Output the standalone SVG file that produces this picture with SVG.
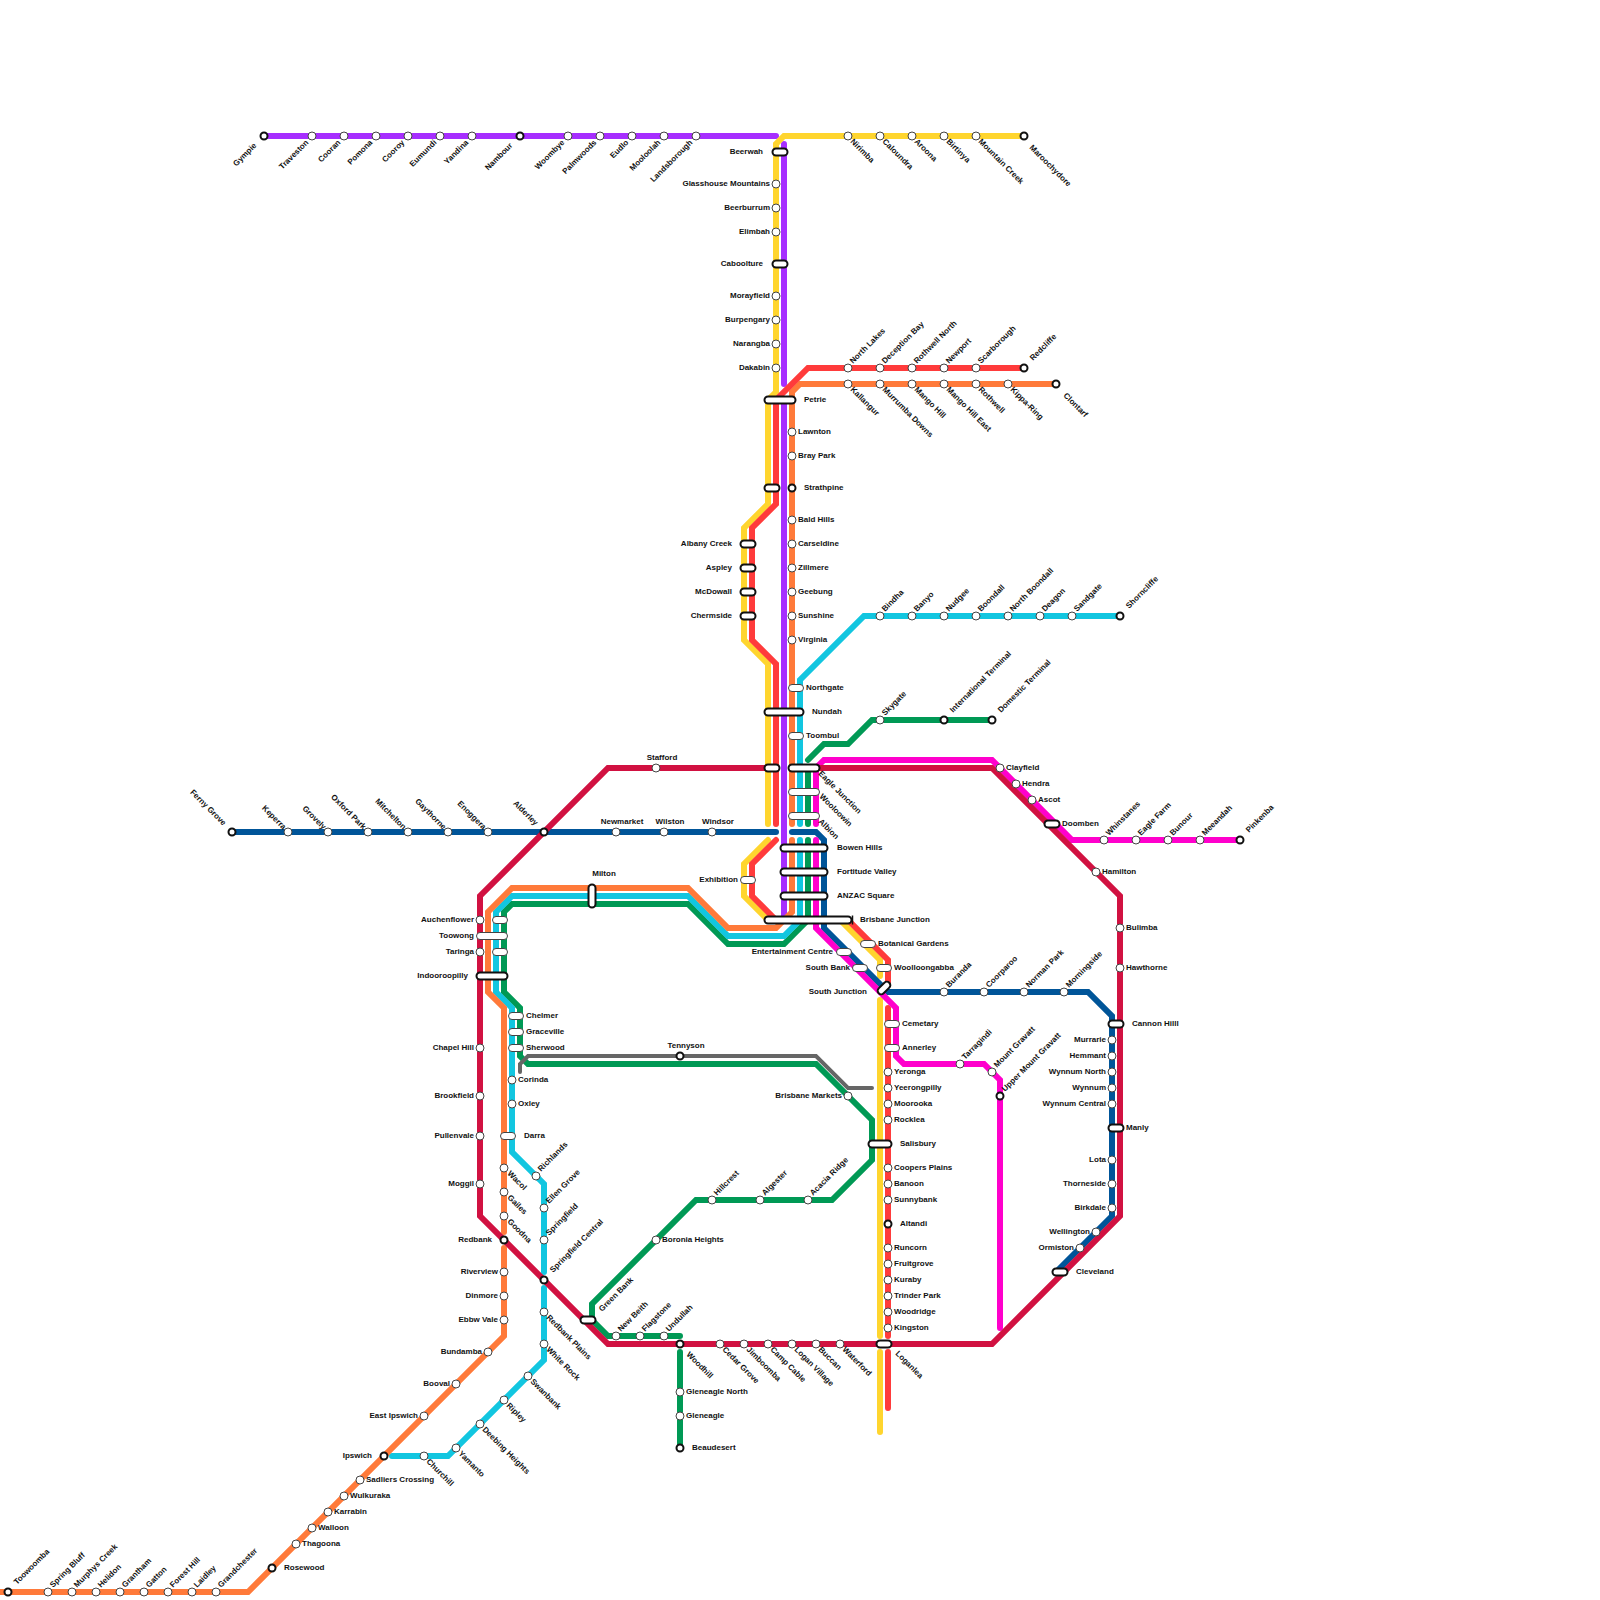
<svg xmlns="http://www.w3.org/2000/svg" width="1600" height="1600" viewBox="0 0 1600 1600">
<style>
text{font-family:"Liberation Sans",Arial,sans-serif;font-size:8px;font-weight:700;fill:#111}
.e{text-anchor:end}.c{text-anchor:middle}
.l path{fill:none;stroke-width:6;stroke-linecap:round;stroke-linejoin:miter}
.s{fill:#fff;stroke:#444;stroke-width:1}
.m{fill:#fff;stroke:#111;stroke-width:2}
.pu{stroke:#a62eff}.ye{stroke:#ffd52e}.re{stroke:#ff3b3b}.or{stroke:#ff7a3a}.cy{stroke:#12c6e0}.gr{stroke:#009955}.ma{stroke:#ff00cc}.bl{stroke:#005599}.cr{stroke:#d11141}
.l path.gy{stroke:#666;stroke-width:4}
</style>
<rect width="1600" height="1600" fill="#fff"/>
<g id="connectors" class="l">
<path class="pu" d="M264 136H776M784 144V384M784 400V920"/>
<path class="gr" d="M504 912L512 904H688L728 944H784L808 920M808 768V824M808 840V920M504 912V992L520 1008V1056L528 1064H816L872 1120V1160L832 1200H696L592 1304V1320L608 1336H680M680 1352V1448M880 720H992M880 720H872L848 744H824L808 760"/>
<path class="gy" d="M520 1072V1064L528 1056H816L848 1088H872"/>
<path class="cy" d="M1120 616H864L800 680V824M800 840V920L784 936H728L688 896H512L496 912V992L512 1008V1152L544 1184V1272M544 1288V1360L448 1456H392"/>
<path class="or" d="M1056 384H800L792 392V824M792 840V912L776 928H728L688 888H512L488 912V992L504 1008V1232M504 1248V1336L248 1592H0"/>
<path class="ye" d="M1024 136H784L776 144V392L768 400V504L744 528V640L768 664V824M768 840L744 864V896L768 920H840L880 960V976M880 1000V1336M880 1352V1432"/>
<path class="re" d="M1024 368H808L776 400V504L752 528V640L776 664V824M776 840L752 864V896L776 920H848L888 960V984M888 1008V1336M888 1352V1408"/>
<path class="bl" d="M232 832H776M792 832H816L824 840V928L888 992H1088L1112 1016V1216L1056 1272"/>
<path class="ma" d="M1240 840H1072L992 760H824L816 768V824M816 840V928L896 1008V1056L904 1064H984L1000 1080V1328"/>
<path class="cr" d="M772 768H608L480 896V1216L608 1344H992L1120 1216V896L992 768H810"/>
</g>
<g id="nodes">
<g id="gympie"><circle class="m" cx="264" cy="136" r="3.5"/><text class="e" transform="translate(257 146) rotate(-45)">Gympie</text></g>
<g id="traveston"><circle class="s" cx="312" cy="136" r="4"/><text class="e" transform="translate(309 143) rotate(-45)">Traveston</text></g>
<g id="cooran"><circle class="s" cx="344" cy="136" r="4"/><text class="e" transform="translate(341 143) rotate(-45)">Cooran</text></g>
<g id="pomona"><circle class="s" cx="376" cy="136" r="4"/><text class="e" transform="translate(373 143) rotate(-45)">Pomona</text></g>
<g id="cooroy"><circle class="s" cx="408" cy="136" r="4"/><text class="e" transform="translate(405 143) rotate(-45)">Cooroy</text></g>
<g id="eumundi"><circle class="s" cx="440" cy="136" r="4"/><text class="e" transform="translate(437 143) rotate(-45)">Eumundi</text></g>
<g id="yandina"><circle class="s" cx="472" cy="136" r="4"/><text class="e" transform="translate(469 143) rotate(-45)">Yandina</text></g>
<g id="nambour"><circle class="m" cx="520" cy="136" r="3.5"/><text class="e" transform="translate(513 146) rotate(-45)">Nambour</text></g>
<g id="woombye"><circle class="s" cx="568" cy="136" r="4"/><text class="e" transform="translate(565 143) rotate(-45)">Woombye</text></g>
<g id="palmwoods"><circle class="s" cx="600" cy="136" r="4"/><text class="e" transform="translate(597 143) rotate(-45)">Palmwoods</text></g>
<g id="eudlo"><circle class="s" cx="632" cy="136" r="4"/><text class="e" transform="translate(629 143) rotate(-45)">Eudlo</text></g>
<g id="mooloolah"><circle class="s" cx="664" cy="136" r="4"/><text class="e" transform="translate(661 143) rotate(-45)">Mooloolah</text></g>
<g id="landsborough"><circle class="s" cx="696" cy="136" r="4"/><text class="e" transform="translate(693 143) rotate(-45)">Landsborough</text></g>
<g id="nirimba"><circle class="s" cx="848" cy="136" r="4"/><text transform="translate(850 142) rotate(45)">Nirimba</text></g>
<g id="caloundra"><circle class="s" cx="880" cy="136" r="4"/><text transform="translate(882 142) rotate(45)">Caloundra</text></g>
<g id="aroona"><circle class="s" cx="912" cy="136" r="4"/><text transform="translate(914 142) rotate(45)">Aroona</text></g>
<g id="birtinya"><circle class="s" cx="944" cy="136" r="4"/><text transform="translate(946 142) rotate(45)">Birtinya</text></g>
<g id="mountain-creek"><circle class="s" cx="976" cy="136" r="4"/><text transform="translate(978 142) rotate(45)">Mountain Creek</text></g>
<g id="maroochydore"><circle class="m" cx="1024" cy="136" r="3.5"/><text transform="translate(1029 148) rotate(45)">Maroochydore</text></g>
<g id="beerwah"><rect class="m" x="772.5" y="148.5" width="15" height="7" rx="3.5"/><text class="e" x="763" y="154">Beerwah</text></g>
<g id="glasshouse"><circle class="s" cx="776" cy="184" r="4"/><text class="e" x="770" y="186">Glasshouse Mountains</text></g>
<g id="beerburrum"><circle class="s" cx="776" cy="208" r="4"/><text class="e" x="770" y="210">Beerburrum</text></g>
<g id="elimbah"><circle class="s" cx="776" cy="232" r="4"/><text class="e" x="770" y="234">Elimbah</text></g>
<g id="caboolture"><rect class="m" x="772.5" y="260.5" width="15" height="7" rx="3.5"/><text class="e" x="763" y="266">Caboolture</text></g>
<g id="morayfield"><circle class="s" cx="776" cy="296" r="4"/><text class="e" x="770" y="298">Morayfield</text></g>
<g id="burpengary"><circle class="s" cx="776" cy="320" r="4"/><text class="e" x="770" y="322">Burpengary</text></g>
<g id="narangba"><circle class="s" cx="776" cy="344" r="4"/><text class="e" x="770" y="346">Narangba</text></g>
<g id="dakabin"><circle class="s" cx="776" cy="368" r="4"/><text class="e" x="770" y="370">Dakabin</text></g>
<g id="north-lakes"><circle class="s" cx="848" cy="368" r="4"/><text transform="translate(853 364) rotate(-45)">North Lakes</text></g>
<g id="deception-bay"><circle class="s" cx="880" cy="368" r="4"/><text transform="translate(885 364) rotate(-45)">Deception Bay</text></g>
<g id="rothwell-north"><circle class="s" cx="912" cy="368" r="4"/><text transform="translate(917 364) rotate(-45)">Rothwell North</text></g>
<g id="newport"><circle class="s" cx="944" cy="368" r="4"/><text transform="translate(949 364) rotate(-45)">Newport</text></g>
<g id="scarborough"><circle class="s" cx="976" cy="368" r="4"/><text transform="translate(981 364) rotate(-45)">Scarborough</text></g>
<g id="redcliffe"><circle class="m" cx="1024" cy="368" r="3.5"/><text transform="translate(1033 361) rotate(-45)">Redcliffe</text></g>
<g id="kallangur"><circle class="s" cx="848" cy="384" r="4"/><text transform="translate(850 390) rotate(45)">Kallangur</text></g>
<g id="murrumba-downs"><circle class="s" cx="880" cy="384" r="4"/><text transform="translate(882 390) rotate(45)">Murrumba Downs</text></g>
<g id="mango-hill"><circle class="s" cx="912" cy="384" r="4"/><text transform="translate(914 390) rotate(45)">Mango Hill</text></g>
<g id="mango-hill-east"><circle class="s" cx="944" cy="384" r="4"/><text transform="translate(946 390) rotate(45)">Mango Hill East</text></g>
<g id="rothwell"><circle class="s" cx="976" cy="384" r="4"/><text transform="translate(978 390) rotate(45)">Rothwell</text></g>
<g id="kippa-ring"><circle class="s" cx="1008" cy="384" r="4"/><text transform="translate(1010 390) rotate(45)">Kippa-Ring</text></g>
<g id="clontarf"><circle class="m" cx="1056" cy="384" r="3.5"/><text transform="translate(1063 396) rotate(45)">Clontarf</text></g>
<g id="petrie"><rect class="m" x="764.5" y="396.5" width="31" height="7" rx="3.5"/><text x="804" y="402">Petrie</text></g>
<g id="lawnton"><circle class="s" cx="792" cy="432" r="4"/><text x="798" y="434">Lawnton</text></g>
<g id="bray-park"><circle class="s" cx="792" cy="456" r="4"/><text x="798" y="458">Bray Park</text></g>
<g id="strathpine"><rect class="m" x="764.5" y="484.5" width="15" height="7" rx="3.5"/><circle class="m" cx="792" cy="488" r="3.5"/><text x="804" y="490">Strathpine</text></g>
<g id="bald-hills"><circle class="s" cx="792" cy="520" r="4"/><text x="798" y="522">Bald Hills</text></g>
<g id="carseldine"><circle class="s" cx="792" cy="544" r="4"/><text x="798" y="546">Carseldine</text></g>
<g id="zillmere"><circle class="s" cx="792" cy="568" r="4"/><text x="798" y="570">Zillmere</text></g>
<g id="geebung"><circle class="s" cx="792" cy="592" r="4"/><text x="798" y="594">Geebung</text></g>
<g id="sunshine"><circle class="s" cx="792" cy="616" r="4"/><text x="798" y="618">Sunshine</text></g>
<g id="virginia"><circle class="s" cx="792" cy="640" r="4"/><text x="798" y="642">Virginia</text></g>
<g id="albany-creek"><rect class="m" x="740.5" y="540.5" width="15" height="7" rx="3.5"/><text class="e" x="732" y="546">Albany Creek</text></g>
<g id="aspley"><rect class="m" x="740.5" y="564.5" width="15" height="7" rx="3.5"/><text class="e" x="732" y="570">Aspley</text></g>
<g id="mcdowall"><rect class="m" x="740.5" y="588.5" width="15" height="7" rx="3.5"/><text class="e" x="732" y="594">McDowall</text></g>
<g id="chermside"><rect class="m" x="740.5" y="612.5" width="15" height="7" rx="3.5"/><text class="e" x="732" y="618">Chermside</text></g>
<g id="bindha"><circle class="s" cx="880" cy="616" r="4"/><text transform="translate(885 612) rotate(-45)">Bindha</text></g>
<g id="banyo"><circle class="s" cx="912" cy="616" r="4"/><text transform="translate(917 612) rotate(-45)">Banyo</text></g>
<g id="nudgee"><circle class="s" cx="944" cy="616" r="4"/><text transform="translate(949 612) rotate(-45)">Nudgee</text></g>
<g id="boondall"><circle class="s" cx="976" cy="616" r="4"/><text transform="translate(981 612) rotate(-45)">Boondall</text></g>
<g id="north-boondall"><circle class="s" cx="1008" cy="616" r="4"/><text transform="translate(1013 612) rotate(-45)">North Boondall</text></g>
<g id="deagon"><circle class="s" cx="1040" cy="616" r="4"/><text transform="translate(1045 612) rotate(-45)">Deagon</text></g>
<g id="sandgate"><circle class="s" cx="1072" cy="616" r="4"/><text transform="translate(1077 612) rotate(-45)">Sandgate</text></g>
<g id="shorncliffe"><circle class="m" cx="1120" cy="616" r="3.5"/><text transform="translate(1129 609) rotate(-45)">Shorncliffe</text></g>
<g id="northgate"><rect class="s" x="788.5" y="684.5" width="15" height="7" rx="3.5"/><text x="806" y="690">Northgate</text></g>
<g id="nundah"><rect class="m" x="764.5" y="708.5" width="39" height="7" rx="3.5"/><text x="812" y="714">Nundah</text></g>
<g id="toombul"><rect class="s" x="788.5" y="732.5" width="15" height="7" rx="3.5"/><text x="806" y="738">Toombul</text></g>
<g id="skygate"><circle class="s" cx="880" cy="720" r="4"/><text transform="translate(885 716) rotate(-45)">Skygate</text></g>
<g id="international-terminal"><circle class="m" cx="944" cy="720" r="3.5"/><text transform="translate(953 713) rotate(-45)">International Terminal</text></g>
<g id="domestic-terminal"><circle class="m" cx="992" cy="720" r="3.5"/><text transform="translate(1001 713) rotate(-45)">Domestic Terminal</text></g>
<g id="stafford"><circle class="s" cx="656" cy="768" r="4"/><text class="c" x="662" y="760">Stafford</text></g>
<g id="eagle-junction"><rect class="m" x="764.5" y="764.5" width="15" height="7" rx="3.5"/><rect class="m" x="788.5" y="764.5" width="31" height="7" rx="3.5"/><text transform="translate(818 774) rotate(45)">Eagle Junction</text></g>
<g id="wooloowin"><rect class="s" x="788.5" y="788.5" width="31" height="7" rx="3.5"/><text transform="translate(819 797) rotate(45)">Wooloowin</text></g>
<g id="albion"><rect class="s" x="788.5" y="812.5" width="31" height="7" rx="3.5"/><text transform="translate(818 822) rotate(45)">Albion</text></g>
<g id="clayfield"><circle class="s" cx="1000" cy="768" r="4"/><text x="1006" y="770">Clayfield</text></g>
<g id="hendra"><circle class="s" cx="1016" cy="784" r="4"/><text x="1022" y="786">Hendra</text></g>
<g id="ascot"><circle class="s" cx="1032" cy="800" r="4"/><text x="1038" y="802">Ascot</text></g>
<g id="doomben"><rect class="m" x="1044.5" y="820.5" width="15" height="7" rx="3.5"/><text x="1062" y="826">Doomben</text></g>
<g id="whinstanes"><circle class="s" cx="1104" cy="840" r="4"/><text transform="translate(1109 836) rotate(-45)">Whinstanes</text></g>
<g id="eagle-farm"><circle class="s" cx="1136" cy="840" r="4"/><text transform="translate(1141 836) rotate(-45)">Eagle Farm</text></g>
<g id="bunour"><circle class="s" cx="1168" cy="840" r="4"/><text transform="translate(1173 836) rotate(-45)">Bunour</text></g>
<g id="meeandah"><circle class="s" cx="1200" cy="840" r="4"/><text transform="translate(1205 836) rotate(-45)">Meeandah</text></g>
<g id="pinkenba"><circle class="m" cx="1240" cy="840" r="3.5"/><text transform="translate(1249 833) rotate(-45)">Pinkenba</text></g>
<g id="hamilton"><circle class="s" cx="1096" cy="872" r="4"/><text x="1102" y="874">Hamilton</text></g>
<g id="bulimba"><circle class="s" cx="1120" cy="928" r="4"/><text x="1126" y="930">Bulimba</text></g>
<g id="hawthorne"><circle class="s" cx="1120" cy="968" r="4"/><text x="1126" y="970">Hawthorne</text></g>
<g id="ferny-grove"><circle class="m" cx="232" cy="832" r="3.5"/><text class="e" transform="translate(223 826) rotate(45)">Ferny Grove</text></g>
<g id="keperra"><circle class="s" cx="288" cy="832" r="4"/><text class="e" transform="translate(283 830) rotate(45)">Keperra</text></g>
<g id="grovely"><circle class="s" cx="328" cy="832" r="4"/><text class="e" transform="translate(323 830) rotate(45)">Grovely</text></g>
<g id="oxford-park"><circle class="s" cx="368" cy="832" r="4"/><text class="e" transform="translate(363 830) rotate(45)">Oxford Park</text></g>
<g id="mitchelton"><circle class="s" cx="408" cy="832" r="4"/><text class="e" transform="translate(403 830) rotate(45)">Mitchelton</text></g>
<g id="gaythorne"><circle class="s" cx="448" cy="832" r="4"/><text class="e" transform="translate(443 830) rotate(45)">Gaythorne</text></g>
<g id="enoggera"><circle class="s" cx="488" cy="832" r="4"/><text class="e" transform="translate(483 830) rotate(45)">Enoggera</text></g>
<g id="alderley"><circle class="m" cx="544" cy="832" r="3.5"/><text class="e" transform="translate(535 826) rotate(45)">Alderley</text></g>
<g id="newmarket"><circle class="s" cx="616" cy="832" r="4"/><text class="c" x="622" y="824">Newmarket</text></g>
<g id="wilston"><circle class="s" cx="664" cy="832" r="4"/><text class="c" x="670" y="824">Wilston</text></g>
<g id="windsor"><circle class="s" cx="712" cy="832" r="4"/><text class="c" x="718" y="824">Windsor</text></g>
<g id="bowen-hills"><rect class="m" x="780.5" y="844.5" width="47" height="7" rx="3.5"/><text x="837" y="850">Bowen Hills</text></g>
<g id="fortitude-valley"><rect class="m" x="780.5" y="868.5" width="47" height="7" rx="3.5"/><text x="837" y="874">Fortitude Valley</text></g>
<g id="anzac-square"><rect class="m" x="780.5" y="892.5" width="47" height="7" rx="3.5"/><text x="837" y="898">ANZAC Square</text></g>
<g id="exhibition"><rect class="s" x="740.5" y="876.5" width="15" height="7" rx="3.5"/><text class="e" x="738" y="882">Exhibition</text></g>
<g id="brisbane-junction"><path d="M852.5 915.5V924.5" stroke="#111" stroke-width="1.5"/><rect class="m" x="764.5" y="916.5" width="87" height="7" rx="3.5"/><text x="860" y="922">Brisbane Junction</text></g>
<g id="milton"><rect class="m" x="588.5" y="884.5" width="7" height="23" rx="3.5"/><text class="c" x="604" y="876">Milton</text></g>
<g id="botanical-gardens"><rect class="s" x="860.5" y="940.5" width="15" height="7" rx="3.5"/><text x="878" y="946">Botanical Gardens</text></g>
<g id="entertainment-centre"><rect class="s" x="836.5" y="948.5" width="15" height="7" rx="3.5"/><text class="e" x="833" y="954">Entertainment Centre</text></g>
<g id="south-bank"><rect class="s" x="852.5" y="964.5" width="15" height="7" rx="3.5"/><text class="e" x="850" y="970">South Bank</text></g>
<g id="woolloongabba"><rect class="s" x="876.5" y="964.5" width="15" height="7" rx="3.5"/><text x="894" y="970">Woolloongabba</text></g>
<g id="south-junction"><rect class="m" x="876.5" y="984.5" width="15" height="7" rx="3.5" transform="rotate(-45 884 988)"/><text class="e" x="867" y="994">South Junction</text></g>
<g id="buranda"><circle class="s" cx="944" cy="992" r="4"/><text transform="translate(949 988) rotate(-45)">Buranda</text></g>
<g id="coorparoo"><circle class="s" cx="984" cy="992" r="4"/><text transform="translate(989 988) rotate(-45)">Coorparoo</text></g>
<g id="norman-park"><circle class="s" cx="1024" cy="992" r="4"/><text transform="translate(1029 988) rotate(-45)">Norman Park</text></g>
<g id="morningside"><circle class="s" cx="1064" cy="992" r="4"/><text transform="translate(1069 988) rotate(-45)">Morningside</text></g>
<g id="auchenflower"><circle class="s" cx="480" cy="920" r="4"/><rect class="s" x="492.5" y="916.5" width="15" height="7" rx="3.5"/><text class="e" x="474" y="922">Auchenflower</text></g>
<g id="toowong"><rect class="s" x="476.5" y="932.5" width="31" height="7" rx="3.5"/><text class="e" x="474" y="938">Toowong</text></g>
<g id="taringa"><circle class="s" cx="480" cy="952" r="4"/><rect class="s" x="492.5" y="948.5" width="15" height="7" rx="3.5"/><text class="e" x="474" y="954">Taringa</text></g>
<g id="indooroopilly"><rect class="m" x="476.5" y="972.5" width="31" height="7" rx="3.5"/><text class="e" x="468" y="978">Indooroopilly</text></g>
<g id="chelmer"><rect class="s" x="508.5" y="1012.5" width="15" height="7" rx="3.5"/><text x="526" y="1018">Chelmer</text></g>
<g id="graceville"><rect class="s" x="508.5" y="1028.5" width="15" height="7" rx="3.5"/><text x="526" y="1034">Graceville</text></g>
<g id="sherwood"><rect class="s" x="508.5" y="1044.5" width="15" height="7" rx="3.5"/><text x="526" y="1050">Sherwood</text></g>
<g id="corinda"><circle class="s" cx="512" cy="1080" r="4"/><text x="518" y="1082">Corinda</text></g>
<g id="oxley"><circle class="s" cx="512" cy="1104" r="4"/><text x="518" y="1106">Oxley</text></g>
<g id="darra"><rect class="s" x="500.5" y="1132.5" width="15" height="7" rx="3.5"/><text x="524" y="1138">Darra</text></g>
<g id="tennyson"><circle class="m" cx="680" cy="1056" r="3.5"/><text class="c" x="686" y="1048">Tennyson</text></g>
<g id="chapel-hill"><circle class="s" cx="480" cy="1048" r="4"/><text class="e" x="474" y="1050">Chapel Hill</text></g>
<g id="brookfield"><circle class="s" cx="480" cy="1096" r="4"/><text class="e" x="474" y="1098">Brookfield</text></g>
<g id="pullenvale"><circle class="s" cx="480" cy="1136" r="4"/><text class="e" x="474" y="1138">Pullenvale</text></g>
<g id="moggil"><circle class="s" cx="480" cy="1184" r="4"/><text class="e" x="474" y="1186">Moggil</text></g>
<g id="wacol"><circle class="s" cx="504" cy="1168" r="4"/><text transform="translate(507 1174) rotate(45)">Wacol</text></g>
<g id="gailes"><circle class="s" cx="504" cy="1192" r="4"/><text transform="translate(507 1198) rotate(45)">Gailes</text></g>
<g id="goodna"><circle class="s" cx="504" cy="1216" r="4"/><text transform="translate(507 1222) rotate(45)">Goodna</text></g>
<g id="redbank"><circle class="m" cx="504" cy="1240" r="3.5"/><text class="e" x="492" y="1242">Redbank</text></g>
<g id="riverview"><circle class="s" cx="504" cy="1272" r="4"/><text class="e" x="498" y="1274">Riverview</text></g>
<g id="dinmore"><circle class="s" cx="504" cy="1296" r="4"/><text class="e" x="498" y="1298">Dinmore</text></g>
<g id="ebbw-vale"><circle class="s" cx="504" cy="1320" r="4"/><text class="e" x="498" y="1322">Ebbw Vale</text></g>
<g id="bundamba"><circle class="s" cx="488" cy="1352" r="4"/><text class="e" x="482" y="1354">Bundamba</text></g>
<g id="booval"><circle class="s" cx="456" cy="1384" r="4"/><text class="e" x="450" y="1386">Booval</text></g>
<g id="east-ipswich"><circle class="s" cx="424" cy="1416" r="4"/><text class="e" x="418" y="1418">East Ipswich</text></g>
<g id="ipswich"><circle class="m" cx="384" cy="1456" r="3.5"/><text class="e" x="372" y="1458">Ipswich</text></g>
<g id="sadliers-crossing"><circle class="s" cx="360" cy="1480" r="4"/><text x="366" y="1482">Sadliers Crossing</text></g>
<g id="wulkuraka"><circle class="s" cx="344" cy="1496" r="4"/><text x="350" y="1498">Wulkuraka</text></g>
<g id="karrabin"><circle class="s" cx="328" cy="1512" r="4"/><text x="334" y="1514">Karrabin</text></g>
<g id="walloon"><circle class="s" cx="312" cy="1528" r="4"/><text x="318" y="1530">Walloon</text></g>
<g id="thagoona"><circle class="s" cx="296" cy="1544" r="4"/><text x="302" y="1546">Thagoona</text></g>
<g id="rosewood"><circle class="m" cx="272" cy="1568" r="3.5"/><text x="284" y="1570">Rosewood</text></g>
<g id="grandchester"><circle class="s" cx="216" cy="1592" r="4"/><text transform="translate(221 1588) rotate(-45)">Grandchester</text></g>
<g id="laidley"><circle class="s" cx="192" cy="1592" r="4"/><text transform="translate(197 1588) rotate(-45)">Laidley</text></g>
<g id="forest-hill"><circle class="s" cx="168" cy="1592" r="4"/><text transform="translate(173 1588) rotate(-45)">Forest Hill</text></g>
<g id="gatton"><circle class="s" cx="144" cy="1592" r="4"/><text transform="translate(149 1588) rotate(-45)">Gatton</text></g>
<g id="grantham"><circle class="s" cx="120" cy="1592" r="4"/><text transform="translate(125 1588) rotate(-45)">Grantham</text></g>
<g id="helidon"><circle class="s" cx="96" cy="1592" r="4"/><text transform="translate(101 1588) rotate(-45)">Helidon</text></g>
<g id="murphys-creek"><circle class="s" cx="72" cy="1592" r="4"/><text transform="translate(77 1588) rotate(-45)">Murphys Creek</text></g>
<g id="spring-bluff"><circle class="s" cx="48" cy="1592" r="4"/><text transform="translate(53 1588) rotate(-45)">Spring Bluff</text></g>
<g id="toowoomba"><circle class="m" cx="8" cy="1592" r="3.5"/><text transform="translate(17 1585) rotate(-45)">Toowoomba</text></g>
<g id="churchill"><circle class="s" cx="424" cy="1456" r="4"/><text transform="translate(426 1462) rotate(45)">Churchill</text></g>
<g id="yamanto"><circle class="s" cx="456" cy="1448" r="4"/><text transform="translate(458 1454) rotate(45)">Yamanto</text></g>
<g id="deebing-heights"><circle class="s" cx="480" cy="1424" r="4"/><text transform="translate(482 1430) rotate(45)">Deebing Heights</text></g>
<g id="ripley"><circle class="s" cx="504" cy="1400" r="4"/><text transform="translate(506 1406) rotate(45)">Ripley</text></g>
<g id="swanbank"><circle class="s" cx="528" cy="1376" r="4"/><text transform="translate(530 1382) rotate(45)">Swanbank</text></g>
<g id="white-rock"><circle class="s" cx="544" cy="1344" r="4"/><text transform="translate(546 1350) rotate(45)">White Rock</text></g>
<g id="redbank-plains"><circle class="s" cx="544" cy="1312" r="4"/><text transform="translate(546 1318) rotate(45)">Redbank Plains</text></g>
<g id="springfield-central"><circle class="m" cx="544" cy="1280" r="3.5"/><text transform="translate(553 1273) rotate(-45)">Springfield Central</text></g>
<g id="springfield"><circle class="s" cx="544" cy="1240" r="4"/><text transform="translate(549 1236) rotate(-45)">Springfield</text></g>
<g id="ellen-grove"><circle class="s" cx="544" cy="1208" r="4"/><text transform="translate(549 1204) rotate(-45)">Ellen Grove</text></g>
<g id="richlands"><circle class="s" cx="536" cy="1176" r="4"/><text transform="translate(541 1172) rotate(-45)">Richlands</text></g>
<g id="green-bank"><rect class="m" x="580.5" y="1316.5" width="15" height="7" rx="3.5"/><text transform="translate(602 1312) rotate(-45)">Green Bank</text></g>
<g id="new-beith"><circle class="s" cx="616" cy="1336" r="4"/><text transform="translate(621 1332) rotate(-45)">New Beith</text></g>
<g id="flagstone"><circle class="s" cx="640" cy="1336" r="4"/><text transform="translate(645 1332) rotate(-45)">Flagstone</text></g>
<g id="undullah"><circle class="s" cx="664" cy="1336" r="4"/><text transform="translate(669 1332) rotate(-45)">Undullah</text></g>
<g id="boronia-heights"><circle class="s" cx="656" cy="1240" r="4"/><text x="662" y="1242">Boronia Heights</text></g>
<g id="hillcrest"><circle class="s" cx="712" cy="1200" r="4"/><text transform="translate(717 1196) rotate(-45)">Hillcrest</text></g>
<g id="algester"><circle class="s" cx="760" cy="1200" r="4"/><text transform="translate(765 1196) rotate(-45)">Algester</text></g>
<g id="acacia-ridge"><circle class="s" cx="808" cy="1200" r="4"/><text transform="translate(813 1196) rotate(-45)">Acacia Ridge</text></g>
<g id="woodhill"><circle class="m" cx="680" cy="1344" r="3.5"/><text transform="translate(686 1355) rotate(45)">Woodhill</text></g>
<g id="gleneagle-north"><circle class="s" cx="680" cy="1392" r="4"/><text x="686" y="1394">Gleneagle North</text></g>
<g id="gleneagle"><circle class="s" cx="680" cy="1416" r="4"/><text x="686" y="1418">Gleneagle</text></g>
<g id="beaudesert"><circle class="m" cx="680" cy="1448" r="3.5"/><text x="692" y="1450">Beaudesert</text></g>
<g id="cedar-grove"><circle class="s" cx="720" cy="1344" r="4"/><text transform="translate(722 1350) rotate(45)">Cedar Grove</text></g>
<g id="jimboomba"><circle class="s" cx="744" cy="1344" r="4"/><text transform="translate(746 1350) rotate(45)">Jimboomba</text></g>
<g id="camp-cable"><circle class="s" cx="768" cy="1344" r="4"/><text transform="translate(770 1350) rotate(45)">Camp Cable</text></g>
<g id="logan-village"><circle class="s" cx="792" cy="1344" r="4"/><text transform="translate(794 1350) rotate(45)">Logan Village</text></g>
<g id="buccan"><circle class="s" cx="816" cy="1344" r="4"/><text transform="translate(818 1350) rotate(45)">Buccan</text></g>
<g id="waterford"><circle class="s" cx="840" cy="1344" r="4"/><text transform="translate(842 1350) rotate(45)">Waterford</text></g>
<g id="loganlea"><rect class="m" x="876.5" y="1340.5" width="15" height="7" rx="3.5"/><text transform="translate(895 1354) rotate(45)">Loganlea</text></g>
<g id="cemetery"><rect class="s" x="884.5" y="1020.5" width="15" height="7" rx="3.5"/><text x="902" y="1026">Cemetary</text></g>
<g id="annerley"><rect class="s" x="884.5" y="1044.5" width="15" height="7" rx="3.5"/><text x="902" y="1050">Annerley</text></g>
<g id="yeronga"><circle class="s" cx="888" cy="1072" r="4"/><text x="894" y="1074">Yeronga</text></g>
<g id="yeerongpilly"><circle class="s" cx="888" cy="1088" r="4"/><text x="894" y="1090">Yeerongpilly</text></g>
<g id="moorooka"><circle class="s" cx="888" cy="1104" r="4"/><text x="894" y="1106">Moorooka</text></g>
<g id="rocklea"><circle class="s" cx="888" cy="1120" r="4"/><text x="894" y="1122">Rocklea</text></g>
<g id="salisbury"><rect class="m" x="868.5" y="1140.5" width="23" height="7" rx="3.5"/><text x="900" y="1146">Salisbury</text></g>
<g id="brisbane-markets"><circle class="s" cx="848" cy="1096" r="4"/><text class="e" x="842" y="1098">Brisbane Markets</text></g>
<g id="coopers-plains"><circle class="s" cx="888" cy="1168" r="4"/><text x="894" y="1170">Coopers Plains</text></g>
<g id="banoon"><circle class="s" cx="888" cy="1184" r="4"/><text x="894" y="1186">Banoon</text></g>
<g id="sunnybank"><circle class="s" cx="888" cy="1200" r="4"/><text x="894" y="1202">Sunnybank</text></g>
<g id="altandi"><circle class="m" cx="888" cy="1224" r="3.5"/><text x="900" y="1226">Altandi</text></g>
<g id="runcorn"><circle class="s" cx="888" cy="1248" r="4"/><text x="894" y="1250">Runcorn</text></g>
<g id="fruitgrove"><circle class="s" cx="888" cy="1264" r="4"/><text x="894" y="1266">Fruitgrove</text></g>
<g id="kuraby"><circle class="s" cx="888" cy="1280" r="4"/><text x="894" y="1282">Kuraby</text></g>
<g id="trinder-park"><circle class="s" cx="888" cy="1296" r="4"/><text x="894" y="1298">Trinder Park</text></g>
<g id="woodridge"><circle class="s" cx="888" cy="1312" r="4"/><text x="894" y="1314">Woodridge</text></g>
<g id="kingston"><circle class="s" cx="888" cy="1328" r="4"/><text x="894" y="1330">Kingston</text></g>
<g id="tarragindi"><circle class="s" cx="960" cy="1064" r="4"/><text transform="translate(965 1060) rotate(-45)">Tarragindi</text></g>
<g id="mount-gravatt"><circle class="s" cx="992" cy="1072" r="4"/><text transform="translate(997 1068) rotate(-45)">Mount Gravatt</text></g>
<g id="upper-mount-gravatt"><circle class="m" cx="1000" cy="1096" r="3.5"/><text transform="translate(1005 1092) rotate(-45)">Upper Mount Gravatt</text></g>
<g id="cannon-hill"><rect class="m" x="1108.5" y="1020.5" width="15" height="7" rx="3.5"/><text x="1132" y="1026">Cannon Hilll</text></g>
<g id="murrarie"><circle class="s" cx="1112" cy="1040" r="4"/><text class="e" x="1106" y="1042">Murrarie</text></g>
<g id="hemmant"><circle class="s" cx="1112" cy="1056" r="4"/><text class="e" x="1106" y="1058">Hemmant</text></g>
<g id="wynnum-north"><circle class="s" cx="1112" cy="1072" r="4"/><text class="e" x="1106" y="1074">Wynnum North</text></g>
<g id="wynnum"><circle class="s" cx="1112" cy="1088" r="4"/><text class="e" x="1106" y="1090">Wynnum</text></g>
<g id="wynnum-central"><circle class="s" cx="1112" cy="1104" r="4"/><text class="e" x="1106" y="1106">Wynnum Central</text></g>
<g id="manly"><rect class="m" x="1108.5" y="1124.5" width="15" height="7" rx="3.5"/><text x="1126" y="1130">Manly</text></g>
<g id="lota"><circle class="s" cx="1112" cy="1160" r="4"/><text class="e" x="1106" y="1162">Lota</text></g>
<g id="thorneside"><circle class="s" cx="1112" cy="1184" r="4"/><text class="e" x="1106" y="1186">Thorneside</text></g>
<g id="birkdale"><circle class="s" cx="1112" cy="1208" r="4"/><text class="e" x="1106" y="1210">Birkdale</text></g>
<g id="wellington"><circle class="s" cx="1096" cy="1232" r="4"/><text class="e" x="1090" y="1234">Wellington</text></g>
<g id="ormiston"><circle class="s" cx="1080" cy="1248" r="4"/><text class="e" x="1074" y="1250">Ormiston</text></g>
<g id="cleveland"><rect class="m" x="1052.5" y="1268.5" width="15" height="7" rx="3.5"/><text x="1076" y="1274">Cleveland</text></g>
</g>
</svg>
